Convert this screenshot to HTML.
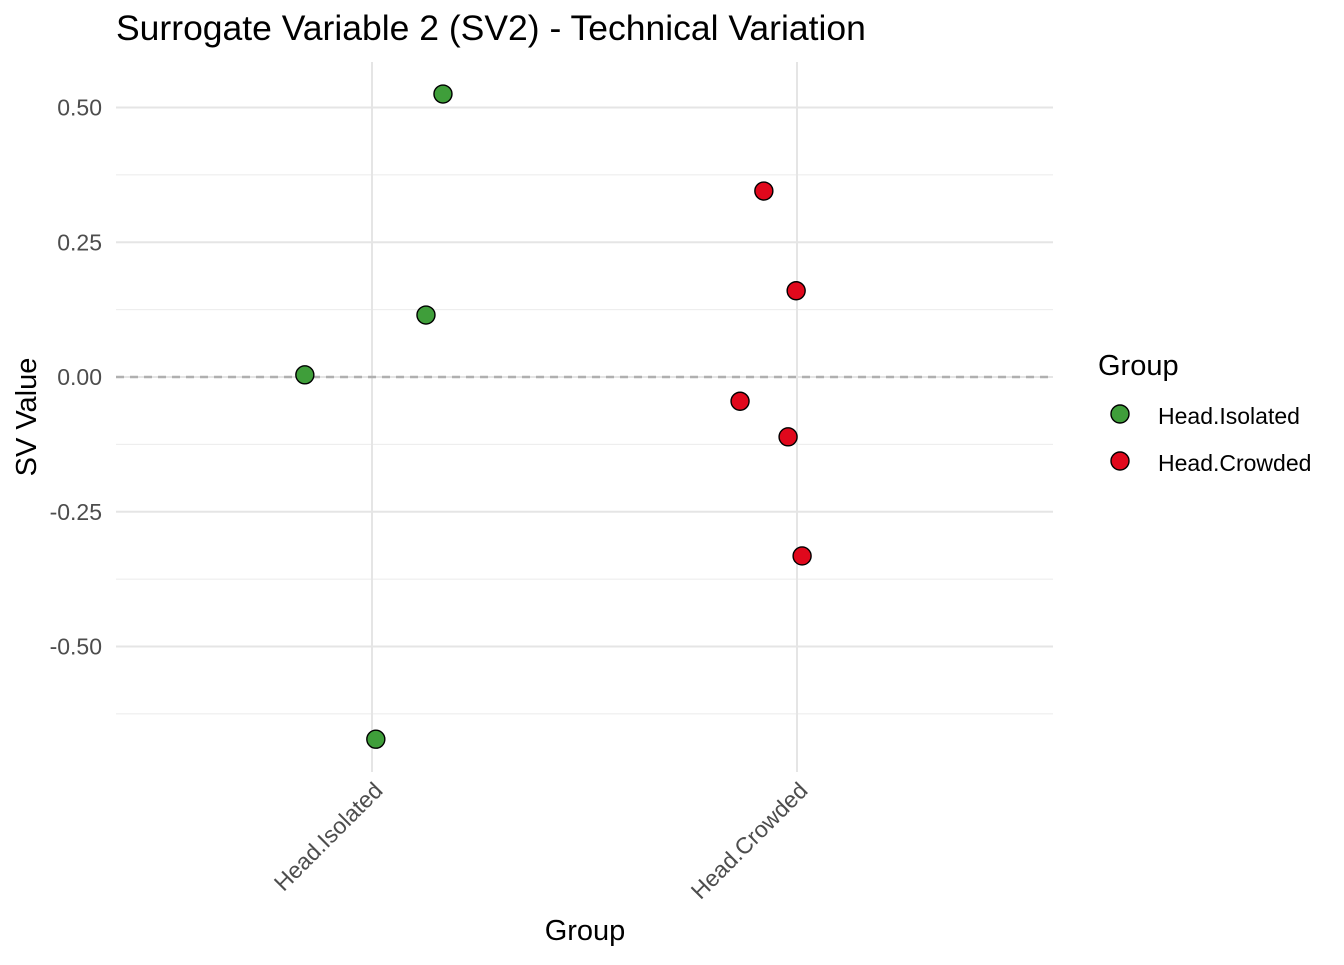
<!DOCTYPE html>
<html><head><meta charset="utf-8"><style>
body{margin:0;background:#fff;font-family:"Liberation Sans",sans-serif;}
</style></head><body>
<svg id="chart" width="1344" height="960" xmlns="http://www.w3.org/2000/svg" font-family="Liberation Sans, sans-serif">
<text x="116" y="40" font-size="35.5" fill="#000">Surrogate Variable 2 (SV2) - Technical Variation</text>
<g id="grid"></g><g id="axes"></g><g id="pts"></g>
<text x="585" y="940" font-size="29" text-anchor="middle">Group</text>
<text transform="translate(36,417) rotate(-90)" font-size="29" text-anchor="middle">SV Value</text>
<g>
<text x="1098" y="375" font-size="29">Group</text>
<circle cx="1120" cy="414" r="9" fill="#3f9e3a" stroke="#000" stroke-width="1.4"/>
<text x="1158" y="424" font-size="23">Head.Isolated</text>
<circle cx="1120" cy="461" r="9" fill="#e0081c" stroke="#000" stroke-width="1.4"/>
<text x="1158" y="471" font-size="23">Head.Crowded</text>
</g>
</svg>
<script>
const categories=["Head.Isolated","Head.Crowded"];
const colors=["#3f9e3a","#e0081c"];
const pointGroup=[0,0,0,0,1,1,1,1,1];
const pointJitter=[0.167,0.127,-0.158,0.009,-0.078,-0.002,-0.134,-0.021,0.012];
const pointValues=[0.525,0.115,0.004,-0.672,0.345,0.16,-0.045,-0.111,-0.332];
const yTicks=[0.5,0.25,0,-0.25,-0.5];
const yTickLabels=["0.50","0.25","0.00","-0.25","-0.50"];
const yMinor=[0.375,0.125,-0.125,-0.375,-0.625];
const NS="http://www.w3.org/2000/svg";
const L=116,R=1053,T=62,B=772;
function y(v){return 377-v*539;}
function x(c){return 372+c*425;}
function mk(tag,attrs,parent){const e=document.createElementNS(NS,tag);for(const k in attrs)e.setAttribute(k,attrs[k]);document.getElementById(parent).appendChild(e);return e;}
yMinor.forEach(v=>{const l=mk('line',{x1:L,x2:R,y1:y(v),y2:y(v),stroke:'#ebebeb','stroke-width':1},'grid');

});
yTicks.forEach((v,i)=>{const l=mk('line',{x1:L,x2:R,y1:y(v),y2:y(v),stroke:'#e5e5e5','stroke-width':2},'grid');


const t=mk('text',{x:102,y:y(v)+8,'font-size':23,fill:'#4d4d4d','text-anchor':'end'},'axes');t.textContent=yTickLabels[i];

});
categories.forEach((c,i)=>{const l=mk('line',{x1:x(i),x2:x(i),y1:T,y2:B,stroke:'#e5e5e5','stroke-width':2},'grid');


const t=mk('text',{transform:`translate(${x(i)+12},${792}) rotate(-45)`,'font-size':23,fill:'#4d4d4d','text-anchor':'end'},'axes');t.textContent=c;

});
const z=mk('line',{x1:L,x2:R,y1:y(0),y2:y(0),stroke:'#b0b0b0','stroke-width':2.5,'stroke-dasharray':'8,6'},'grid');


pointValues.forEach((v,i)=>{const g=pointGroup[i];const c=mk('circle',{cx:x(g+pointJitter[i]),cy:y(v),r:9,fill:colors[g],stroke:'#000','stroke-width':1.4},'pts');

});
</script>
</body></html>
